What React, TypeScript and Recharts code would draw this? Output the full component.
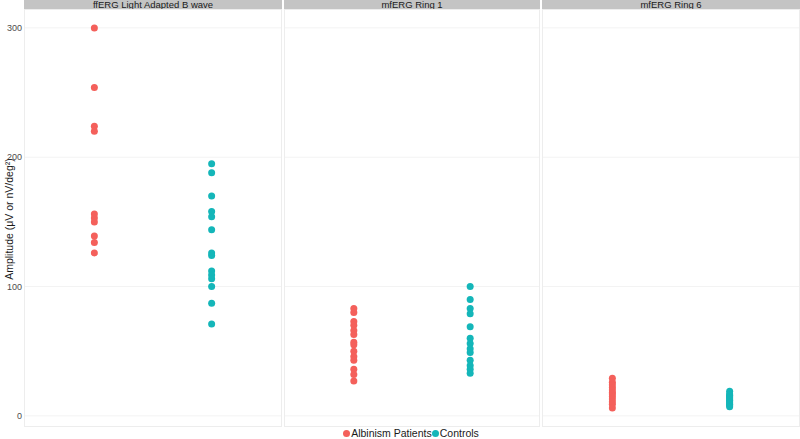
import React from "react";
import { ScatterChart, Scatter, XAxis, YAxis, CartesianGrid } from "recharts";

const groups = ["Albinism Patients", "Controls"];
const groupColors = ["#F4605B", "#14B6B9"];
const panelTitles = ["ffERG Light Adapted B wave", "mfERG Ring 1", "mfERG Ring 6"];

const ffergAlbinism = [300, 254, 224, 220, 156, 153, 150, 139, 134, 126];
const ffergControls = [195, 188, 170, 158, 154, 144, 126, 124, 112, 109, 106, 100, 87, 71];
const ring1Albinism = [83, 80, 73, 70, 66, 63, 57, 55, 50, 46, 43, 36, 32, 27];
const ring1Controls = [100, 90, 83, 79, 69, 60, 56, 52, 49, 43, 39, 36, 33];
const ring6Albinism = [29, 26, 24, 22, 20, 18, 17, 15, 13, 11, 9, 6];
const ring6Controls = [19, 17, 16, 15, 14, 13, 12, 11, 10, 9, 8, 7];

const yTicks = [0, 100, 200, 300];

const panelValues = [
  [ffergAlbinism, ffergControls],
  [ring1Albinism, ring1Controls],
  [ring6Albinism, ring6Controls],
];

const FONT = "'Liberation Sans', Arial, sans-serif";
const Y_DOMAIN: [number, number] = [-8.6, 314.6];
const X_DOMAIN: [number, number] = [0.4, 2.6];

// plot area left/width for each facet
const panelBoxes = [
  { left: 24, width: 258 },
  { left: 284, width: 256 },
  { left: 542, width: 258 },
];
const STRIP_H = 9;
const PLOT_H = 418;

const Dot = (color: string) => (props: any) => (
  <circle cx={props.cx} cy={props.cy} r={3.5} fill={color} />
);

function Panel({ index }: { index: number }) {
  const box = panelBoxes[index];
  const first = index === 0;
  const axisW = first ? box.left : 0;
  const chartLeft = box.left - axisW;
  const series = panelValues[index].map((vals, g) =>
    vals.map((v) => ({ x: g + 1, y: v }))
  );

  return (
    <>
      <div
        style={{
          position: "absolute",
          left: box.left,
          top: 0,
          width: box.width,
          height: STRIP_H,
          background: "#C4C4C4",
          overflow: "hidden",
          textAlign: "center",
          fontFamily: FONT,
          fontSize: 9.5,
          lineHeight: "9px",
          color: "#1A1A1A",
        }}
      >
        {panelTitles[index]}
      </div>
      <div style={{ position: "absolute", left: chartLeft, top: STRIP_H }}>
        <ScatterChart
          width={box.width + axisW}
          height={PLOT_H}
          margin={{ top: 0, right: 0, bottom: 0, left: 0 }}
        >
          <CartesianGrid vertical={false} stroke="#F3F3F3" />
          <XAxis type="number" dataKey="x" domain={X_DOMAIN} hide />
          <YAxis
            type="number"
            dataKey="y"
            domain={Y_DOMAIN}
            ticks={yTicks}
            hide={!first}
            width={axisW}
            tickSize={0}
            tickMargin={2}
            axisLine={false}
            tickLine={false}
            tick={{ fill: "#4D4D4D", fontSize: 9, fontFamily: FONT }}
          />
          {series.map((pts, g) => (
            <Scatter
              key={groups[g]}
              name={groups[g]}
              data={pts}
              fill={groupColors[g]}
              shape={Dot(groupColors[g])}
              isAnimationActive={false}
            />
          ))}
        </ScatterChart>
      </div>
      <div
        style={{
          position: "absolute",
          left: box.left,
          top: STRIP_H,
          width: box.width,
          height: PLOT_H,
          border: "1px solid #EDEDED",
          boxSizing: "border-box",
          pointerEvents: "none",
        }}
      />
    </>
  );
}

export default function App() {
  return (
    <div
      style={{
        position: "absolute",
        left: 0,
        top: 0,
        width: 800,
        height: 439,
        background: "#fff",
        overflow: "hidden",
      }}
    >
      {panelTitles.map((_, i) => (
        <Panel key={i} index={i} />
      ))}
      <div
        style={{
          position: "absolute",
          left: -1,
          top: 219,
          width: 0,
          height: 0,
        }}
      >
        <div
          style={{
            position: "absolute",
            transform: "translate(-50%, -50%) rotate(-90deg)",
            left: 10,
            top: 0,
            whiteSpace: "nowrap",
            fontFamily: FONT,
            fontSize: 10.5,
            color: "#1A1A1A",
          }}
        >
          Amplitude (μV or nV/deg²)
        </div>
      </div>
      <div
        style={{
          position: "absolute",
          left: 0,
          top: 428,
          width: 800,
          display: "flex",
          justifyContent: "center",
          paddingLeft: 22,
          boxSizing: "border-box",
          fontFamily: FONT,
          fontSize: 10.5,
          lineHeight: "11px",
          color: "#1A1A1A",
        }}
      >
        {groups.map((g, i) => (
          <span key={g} style={{ display: "flex", alignItems: "center" }}>
            <span
              style={{
                display: "inline-block",
                width: 7,
                height: 7,
                borderRadius: "50%",
                background: groupColors[i],
                marginRight: 1,
              }}
            />
            {g}
          </span>
        ))}
      </div>
    </div>
  );
}
